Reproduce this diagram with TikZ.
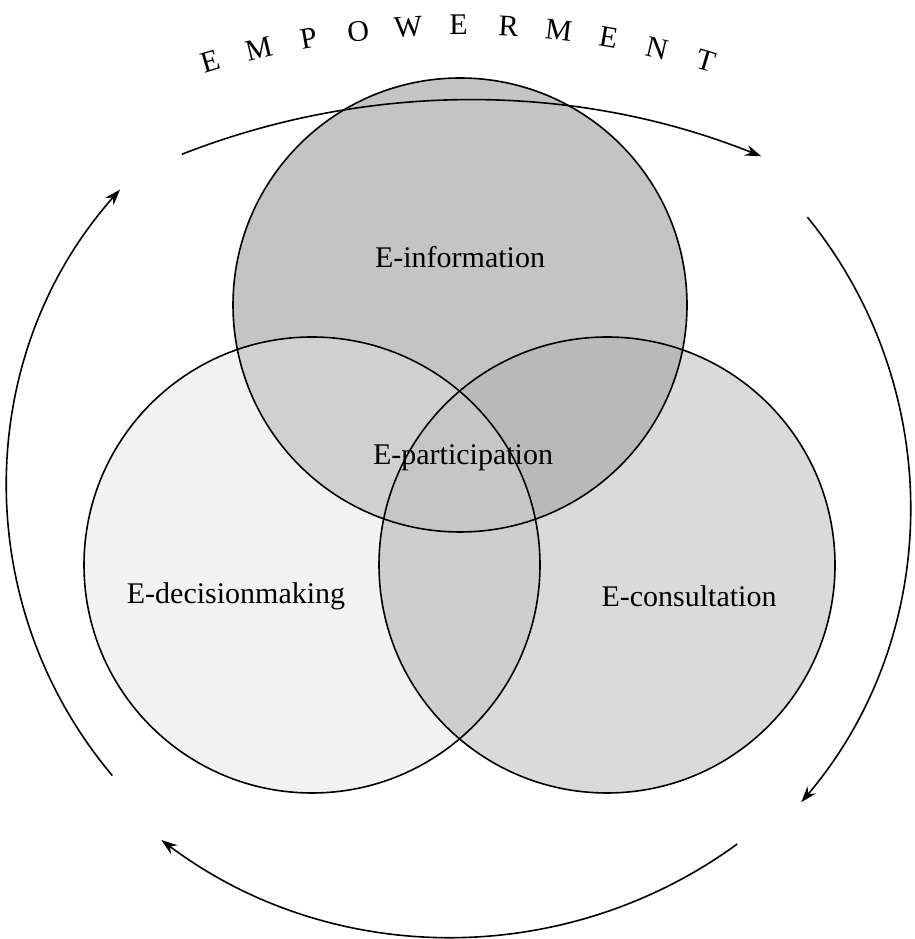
\documentclass[tikz,border=0pt]{standalone}
\usepackage{fontspec}
\setmainfont{Liberation Serif}
\usetikzlibrary{arrows.meta,calc}
\begin{document}
\begin{tikzpicture}[x=1pt,y=1pt,
  ring/.style={line width=1.6pt},
  flow/.style={line width=1.6pt,-{Stealth[length=16pt,width=11pt]}},
  lbl/.style={font=\fontsize{30}{30}\selectfont},
  let/.style={font=\fontsize{30}{30}\selectfont,inner sep=0pt}]
\useasboundingbox (0,0) rectangle (914,939);
\def\T{(460,634) circle (227)}
\def\L{(312,374) circle (228)}
\def\R{(607,374) circle (228)}
\fill[color={rgb,255:red,196;green,196;blue,196}] \T;
\fill[color={rgb,255:red,242;green,242;blue,242}] \L;
\fill[color={rgb,255:red,218;green,218;blue,218}] \R;
\begin{scope}\clip \T; \fill[color={rgb,255:red,208;green,208;blue,208}] \L; \end{scope}
\begin{scope}\clip \T; \fill[color={rgb,255:red,185;green,185;blue,185}] \R; \end{scope}
\begin{scope}\clip \L; \fill[color={rgb,255:red,206;green,206;blue,206}] \R; \end{scope}
\begin{scope}\clip \T; \clip \L; \fill[color={rgb,255:red,198;green,198;blue,198}] \R; \end{scope}
\draw[ring] \T; \draw[ring] \L; \draw[ring] \R;
\node[lbl] (info) at (460,682) {E-information};
\node[lbl] (part) at (463,481) {E-participation};
\node[lbl] (dec) at (236,343) {E-decisionmaking};
\node[lbl] (cons) at (689,343) {E-consultation};
% arcs
\draw[flow] (469,52) ++(111.4:787) arc[start angle=111.4,end angle=68.2,radius=787];
\draw[flow] (452,433) ++(39.1:458) arc[start angle=39.1,end angle=-40.3,radius=458];
\draw[flow] (452,486) ++(-53.9:484) arc[start angle=-53.9,end angle=-126.9,radius=484];
\draw[flow] (455,452) ++(220.1:448) arc[start angle=220.1,end angle=138.4,radius=448];
% EMPOWERMENT
\foreach \c [count=\i] in {E,M,P,O,W,E,R,M,E,N,T}{
  \pgfmathsetmacro\a{106.8-(\i-1)*3.34}
  \node[let,rotate=\a-90] (l\i) at ($(460,52)+(\a:862)$) {\c};
}
\end{tikzpicture}
\end{document}
